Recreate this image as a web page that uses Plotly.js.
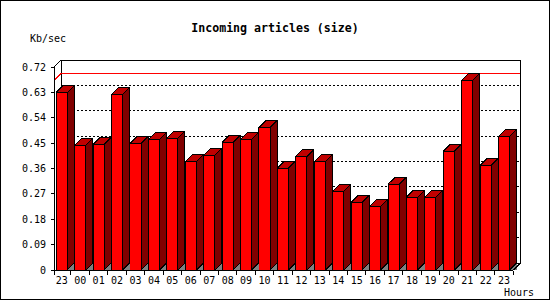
<!DOCTYPE html>
<html><head><meta charset="utf-8">
<script src="https://cdn.plot.ly/plotly-3.0.1.min.js"></script>
<style>
html,body{margin:0;padding:0;background:#fff}
#wrap{position:relative;width:550px;height:300px}
#chart{width:550px;height:300px}
#chart svg path{shape-rendering:crispEdges}
#border{position:absolute;left:0;top:0;width:550px;height:300px;box-sizing:border-box;border:1px solid #000;pointer-events:none}
</style>
</head><body>
<div id="wrap"><div id="chart"></div><div id="border"></div></div>
<script>
// ---- data ----
const hours = ['23','00','01','02','03','04','05','06','07','08','09','10','11','12','13','14','15','16','17','18','19','20','21','22','23'];
const sizeKb = [0.630,0.442,0.446,0.623,0.449,0.463,0.467,0.385,0.407,0.453,0.463,0.506,0.361,0.403,0.385,0.279,0.240,0.226,0.304,0.258,0.258,0.421,0.673,0.371,0.474];
const yTickVals = [0,0.09,0.18,0.27,0.36,0.45,0.54,0.63,0.72];
const yTickText = ['0','0.09','0.18','0.27','0.36','0.45','0.54','0.63','0.72'];

// ---- geometry (3D look) ----
const n = hours.length;
const idx = hours.map((_, i) => i);
const BW = 0.6, DX = 0.38, DY = 0.0248;
const X_FRONT = -0.42, X_END = n - 0.5;
const YTOP = yTickVals[yTickVals.length - 1];
const maxV = Math.max(...sizeKb);

function polys(fn) {
  const xs = [], ys = [];
  idx.forEach(i => {
    const pts = fn(i, sizeKb[i]);
    pts.forEach(p => { xs.push(p[0]); ys.push(p[1]); });
    xs.push(pts[0][0]); ys.push(pts[0][1]);
    xs.push(null); ys.push(null);
  });
  return {xs, ys};
}
const shadowPoly = polys((i, v) => [[i + BW/2, 0], [i + BW/2 + DX, DY], [i + BW/2 + DX, 0]]);
const sidePoly = polys((i, v) => [[i + BW/2, 0], [i + BW/2 + DX, DY], [i + BW/2 + DX, v + DY], [i + BW/2, v]]);
const topPoly = polys((i, v) => [[i - BW/2, v], [i - BW/2 + DX, v + DY], [i + BW/2 + DX, v + DY], [i + BW/2, v]]);

const traces = [
  {type:'bar', x: idx, y: sizeKb, width: BW, marker:{color:'#ff0000', line:{color:'#000', width:1}}, hoverinfo:'skip'},
  {type:'scatter', mode:'lines', x: shadowPoly.xs, y: shadowPoly.ys, fill:'toself', fillcolor:'#808080', line:{width:0, color:'#808080'}, hoverinfo:'skip'},
  {type:'scatter', mode:'lines', x: sidePoly.xs, y: sidePoly.ys, fill:'toself', fillcolor:'#800000', line:{width:1, color:'#000'}, hoverinfo:'skip'},
  {type:'scatter', mode:'lines', x: topPoly.xs, y: topPoly.ys, fill:'toself', fillcolor:'#c00000', line:{width:1, color:'#000'}, hoverinfo:'skip'}
];

const mkLine = (x0, y0, x1, y1, color, dash, layer) => ({type:'line', xref:'x', yref:'y', x0, y0, x1, y1, layer: layer || 'below', line:{color: color || '#000', width:1, dash: dash || 'solid'}});
const shapes = [];
shapes.push({type:'rect', xref:'x', yref:'y', x0: X_FRONT + DX, x1: X_END + DX, y0: DY, y1: YTOP + DY, layer:'below', line:{color:'#000', width:1}, fillcolor:'rgba(0,0,0,0)'});
yTickVals.forEach(v => { if (v > 0 && v < YTOP) shapes.push(mkLine(X_FRONT + DX, v + DY, X_END + DX, v + DY, '#000', '2px,2px')); });
shapes.push(mkLine(X_FRONT + DX, maxV + DY, X_END + DX, maxV + DY, '#ff0000'));
shapes.push(mkLine(X_FRONT, maxV, X_FRONT + DX, maxV + DY, '#ff0000'));
shapes.push(mkLine(X_FRONT, YTOP, X_FRONT + DX, YTOP + DY, '#000'));
shapes.push(mkLine(X_FRONT, 0, X_FRONT, YTOP, '#000', 'solid', 'above'));
shapes.push(mkLine(X_FRONT, 0, X_END, 0, '#000', 'solid', 'above'));
shapes.push(mkLine(X_END, 0, X_END + DX, DY, '#000', 'solid', 'above'));

const minorTicks = [X_FRONT].concat(idx.slice(1).map(i => i - 0.5)).concat([X_END]);
const mono = 'DejaVu Sans Mono';

const layout = {
  width: 550, height: 300,
  margin: {l:52, r:28, t:58, b:28},
  paper_bgcolor:'#fff', plot_bgcolor:'#fff',
  showlegend:false,
  title: {text:'Incoming articles (size)', font:{family:mono, size:11.6, color:'#000', weight:'bold'}, x:0.5, xanchor:'center', xref:'container', y:0.907, yanchor:'middle', yref:'container'},
  xaxis: {range:[-0.53, 24.97], anchor:'free', position: 2/214, tickmode:'array', tickvals: idx, ticktext: hours, ticks:'', ticklabelstandoff:3, showgrid:false, zeroline:false, showline:false, tickfont:{family:mono, size:10, color:'#000'}, minor:{tickmode:'array', tickvals: minorTicks, ticks:'outside', ticklen:4, tickwidth:1, tickcolor:'#000', showgrid:false}, fixedrange:true},
  yaxis: {range:[-0.0071, 0.7521], anchor:'free', position: 2/470, tickmode:'array', tickvals: yTickVals, ticktext: yTickText, ticks:'outside', ticklen:3, tickwidth:1, tickcolor:'#000', ticklabelstandoff:3, showgrid:false, zeroline:false, showline:false, tickfont:{family:mono, size:10, color:'#000'}, fixedrange:true},
  shapes: shapes,
  annotations: [
    {text:'Kb/sec', xref:'paper', yref:'paper', x:(47.5-52)/470, y:(272-38)/214, xanchor:'center', yanchor:'middle', showarrow:false, font:{family:mono, size:10, color:'#000'}},
    {text:'Hours', xref:'paper', yref:'paper', x:(519-52)/470, y:(272-292)/214, xanchor:'center', yanchor:'middle', showarrow:false, font:{family:mono, size:10, color:'#000'}}
  ]
};
Plotly.newPlot('chart', traces, layout, {displayModeBar:false, staticPlot:true});
</script>
</body></html>
